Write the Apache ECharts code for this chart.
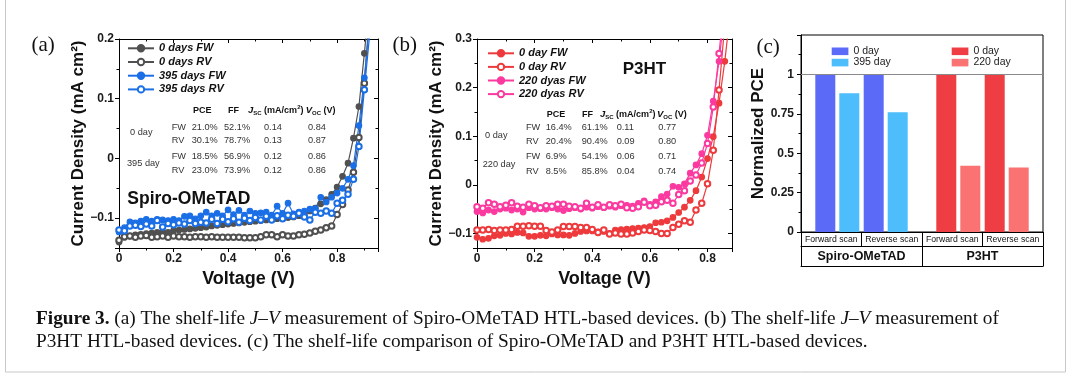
<!DOCTYPE html>
<html><head><meta charset="utf-8">
<script src="https://cdn.jsdelivr.net/npm/echarts@6/dist/echarts.min.js"></script>
<style>html,body{margin:0;padding:0;background:#fff}#c{width:1080px;height:381px}</style>
</head><body><div id="c"></div>
<script>
// ---------- DATA ----------
const voltageA = [0,0.02,0.04,0.06,0.08,0.1,0.12,0.14,0.16,0.18,0.2,0.22,0.24,0.26,0.28,0.3,0.32,0.34,0.36,0.38,0.4,0.42,0.44,0.46,0.48,0.5,0.52,0.54,0.56,0.58,0.6,0.62,0.64,0.66,0.68,0.7,0.72,0.74,0.76,0.78,0.8,0.82,0.84,0.86,0.88,0.9,0.92];
const spiro0FW = [-0.140,-0.132,-0.130,-0.128,-0.127,-0.126,-0.125,-0.124,-0.123,-0.124,-0.121,-0.120,-0.119,-0.118,-0.117,-0.116,-0.115,-0.113,-0.112,-0.111,-0.110,-0.109,-0.108,-0.107,-0.106,-0.105,-0.104,-0.103,-0.102,-0.101,-0.100,-0.099,-0.098,-0.096,-0.094,-0.088,-0.083,-0.076,-0.069,-0.060,-0.048,-0.030,-0.008,0.034,0.087,0.176,0.270];
const spiro0RV = [-0.137,-0.131,-0.130,-0.132,-0.130,-0.129,-0.132,-0.131,-0.130,-0.132,-0.130,-0.131,-0.131,-0.132,-0.131,-0.131,-0.132,-0.131,-0.132,-0.132,-0.132,-0.132,-0.132,-0.133,-0.133,-0.133,-0.131,-0.128,-0.128,-0.131,-0.128,-0.130,-0.130,-0.128,-0.127,-0.125,-0.122,-0.120,-0.116,-0.113,-0.094,-0.077,-0.053,-0.023,0.035,0.126,0.250];
const spiro395FW = [-0.123,-0.116,-0.106,-0.108,-0.105,-0.102,-0.105,-0.102,-0.103,-0.104,-0.102,-0.104,-0.097,-0.096,-0.101,-0.096,-0.090,-0.096,-0.092,-0.096,-0.086,-0.094,-0.087,-0.095,-0.088,-0.092,-0.091,-0.090,-0.095,-0.080,-0.092,-0.075,-0.093,-0.090,-0.088,-0.085,-0.084,-0.065,-0.073,-0.065,-0.058,-0.050,-0.035,-0.012,0.055,0.135,0.230];
const spiro395RV = [-0.120,-0.121,-0.113,-0.112,-0.114,-0.110,-0.113,-0.104,-0.115,-0.109,-0.111,-0.108,-0.110,-0.104,-0.109,-0.107,-0.108,-0.102,-0.109,-0.102,-0.106,-0.101,-0.107,-0.100,-0.104,-0.099,-0.103,-0.097,-0.103,-0.096,-0.101,-0.095,-0.097,-0.092,-0.098,-0.103,-0.090,-0.092,-0.088,-0.092,-0.075,-0.070,-0.060,-0.035,0.020,0.115,0.210];

const voltageB = [0,0.02,0.04,0.06,0.08,0.1,0.12,0.14,0.16,0.18,0.2,0.22,0.24,0.26,0.28,0.3,0.32,0.34,0.36,0.38,0.4,0.42,0.44,0.46,0.48,0.5,0.52,0.54,0.56,0.58,0.6,0.62,0.64,0.66,0.68,0.7,0.72,0.74,0.76,0.78,0.8,0.82,0.84,0.86,0.88];
const p3ht0FW = [-0.108,-0.112,-0.110,-0.105,-0.104,-0.100,-0.101,-0.098,-0.099,-0.106,-0.106,-0.104,-0.105,-0.101,-0.103,-0.103,-0.104,-0.100,-0.096,-0.095,-0.095,-0.097,-0.096,-0.100,-0.093,-0.092,-0.091,-0.090,-0.089,-0.088,-0.086,-0.078,-0.077,-0.074,-0.067,-0.057,-0.046,-0.032,-0.012,0.016,0.054,0.099,0.168,0.254,0.360];
const p3ht0RV = [-0.093,-0.093,-0.092,-0.094,-0.093,-0.093,-0.092,-0.085,-0.085,-0.084,-0.085,-0.085,-0.094,-0.097,-0.093,-0.086,-0.086,-0.086,-0.088,-0.088,-0.092,-0.098,-0.093,-0.101,-0.099,-0.101,-0.101,-0.099,-0.096,-0.093,-0.094,-0.096,-0.100,-0.100,-0.088,-0.081,-0.074,-0.077,-0.052,-0.038,0.002,0.071,0.195,0.330];
const p3ht220FW = [-0.055,-0.058,-0.052,-0.055,-0.050,-0.048,-0.052,-0.050,-0.056,-0.047,-0.050,-0.049,-0.050,-0.047,-0.050,-0.053,-0.049,-0.047,-0.050,-0.046,-0.048,-0.045,-0.047,-0.044,-0.046,-0.043,-0.042,-0.044,-0.038,-0.033,-0.040,-0.035,-0.024,-0.019,-0.003,-0.005,0.002,0.024,0.041,0.064,0.102,0.172,0.254,0.360];
const p3ht220RV = [-0.045,-0.048,-0.037,-0.040,-0.045,-0.042,-0.037,-0.044,-0.046,-0.040,-0.043,-0.047,-0.043,-0.044,-0.040,-0.040,-0.044,-0.045,-0.048,-0.038,-0.046,-0.041,-0.046,-0.041,-0.043,-0.040,-0.047,-0.048,-0.045,-0.036,-0.043,-0.042,-0.035,-0.032,-0.038,-0.020,-0.012,0.008,0.020,0.045,0.085,0.160,0.270,0.390];

const scanLabels = ['Forward scan','Reverse scan','Forward scan','Reverse scan'];
const htlLabels = ['Spiro-OMeTAD','P3HT'];
const spiroPCE0 = [1, 1];
const spiroPCE395 = [0.88, 0.76];
const p3htPCE0 = [1, 1];
const p3htPCE220 = [0.42, 0.41];

const tableHeader = ['PCE','FF','{i|J}{sub|SC}{t| (mA/cm}{sup|2}{t|)}','{i|V}{sub|OC}{t| (V)}'];
const tableARows = [['FW','21.0%','52.1%','0.14','0.84'],['RV','30.1%','78.7%','0.13','0.87'],['FW','18.5%','56.9%','0.12','0.86'],['RV','23.0%','73.9%','0.12','0.86']];
const tableAGroups = ['0 day','395 day'];
const tableBRows = [['FW','16.4%','61.1%','0.11','0.77'],['RV','20.4%','90.4%','0.09','0.80'],['FW','6.9%','54.1%','0.06','0.71'],['RV','8.5%','85.8%','0.04','0.74']];
const tableBGroups = ['0 day','220 day'];

const captionLine1 = '{b|Figure 3.} (a) The shelf-life {i|J–V} measurement of Spiro-OMeTAD HTL-based devices. (b) The shelf-life {i|J–V} measurement of';
const captionLine2 = 'P3HT HTL-based devices. (c) The shelf-life comparison of Spiro-OMeTAD and P3HT HTL-based devices.';

// ---------- STYLE / LAYOUT ----------
const FONT = '"Liberation Sans", Arial, sans-serif';
const SERIF = '"Liberation Serif", "Times New Roman", serif';
const BLACK = '#000';
const cGray = '#505050', cBlue = '#1b6fe6', cRed = '#ee3a3c', cPink = '#fb3aa0';
const barPos = [1, 2];
const barPosP3 = [3.5, 4.5];
const CAP = 19.3;

function zip(xs, ys){ return ys.map((y,i)=>[xs[i], y]); }
function fmt(v){ if (Math.abs(v) < 1e-9) return '0'; return (v < 0 ? '\u2212' : '') + String(+Math.abs(v).toFixed(2)); }
const tickLbl = {fontFamily: FONT, fontWeight: 'bold', fontSize: 12, color: '#1a1a1a'};
const axLine = {show: true, onZero: false, lineStyle: {color: BLACK, width: 1}};

function xAx(grid, pos, min, max, withLabel){
  return {gridIndex: grid, type: 'value', position: pos, min, max, splitNumber: 5,
    axisLine: axLine,
    axisTick: {show: true, inside: pos === 'top', length: 4, lineStyle: {color: BLACK}},
    minorTick: {show: true, splitNumber: 2, length: 2.5, lineStyle: {color: BLACK}},
    splitLine: {show: false},
    axisLabel: withLabel ? Object.assign({margin: 5, formatter: fmt, showMaxLabel: false}, tickLbl) : {show: false},
    name: withLabel ? 'Voltage (V)' : '', nameLocation: 'middle', nameGap: 19,
    nameTextStyle: {fontFamily: FONT, fontWeight: 'bold', fontSize: 18, color: '#111'}};
}
function yAx(grid, pos, min, max, withLabel, nameGap){
  return {gridIndex: grid, type: 'value', position: pos, min, max, splitNumber: 4,
    axisLine: axLine,
    axisTick: {show: true, inside: pos === 'right', length: 4, lineStyle: {color: BLACK}},
    minorTick: {show: true, splitNumber: 2, length: 2.5, lineStyle: {color: BLACK}},
    splitLine: {show: false},
    axisLabel: withLabel ? Object.assign({margin: 5, formatter: fmt, showMinLabel: false}, tickLbl) : {show: false},
    name: withLabel ? 'Current Density (mA cm\u00B2)' : '', nameLocation: 'middle', nameGap: nameGap,
    nameTextStyle: {fontFamily: FONT, fontWeight: 'bold', fontSize: 17, color: '#111'}};
}
function jv(name, xs, ys, color, filled, xi, yi){
  return {type: 'line', name, xAxisIndex: xi, yAxisIndex: yi, data: zip(xs, ys),
    symbol: filled ? 'circle' : 'emptyCircle', symbolSize: 5.5, showSymbol: true,
    lineStyle: {color, width: 1.2}, itemStyle: {color, borderColor: color, borderWidth: 1.2},
    emphasis: {disabled: true}, clip: true, animation: false};
}
function bar(name, pos, vals, color, xi, extra){
  return Object.assign({type: 'bar', name, xAxisIndex: xi, yAxisIndex: 4, data: zip(pos, vals),
    barWidth: 20, barGap: '20%', itemStyle: {color}, emphasis: {disabled: true}, animation: false}, extra || {});
}

function table(rows, groups, colX, hdrX, hdrY, rowY, grpX, grpY){
  const els = [];
  tableHeader.forEach((h, i) => els.push({type: 'text', x: hdrX[i], y: hdrY, style: {
    text: h, fontFamily: FONT, fontWeight: 'bold', fontSize: 9, fill: '#111', lineHeight: 12,
    align: 'left', verticalAlign: 'middle', textAlign: 'left', textVerticalAlign: 'middle',
    rich: {t: {fontFamily: FONT, fontWeight: 'bold', fontSize: 9, lineHeight: 12},
           i: {fontFamily: FONT, fontWeight: 'bold', fontStyle: 'italic', fontSize: 9.5, lineHeight: 12},
           sub: {fontFamily: FONT, fontWeight: 'bold', fontSize: 6, lineHeight: 6, verticalAlign: 'bottom'},
           sup: {fontFamily: FONT, fontWeight: 'bold', fontSize: 6, lineHeight: 6, verticalAlign: 'top'}}}}));
  rows.forEach((r, ri) => r.forEach((c, ci) => els.push({type: 'text', x: colX[ci], y: rowY[ri], style: {
    text: c, fontFamily: FONT, fontSize: 9.2, fill: '#333', align: 'left', verticalAlign: 'middle',
    textAlign: 'left', textVerticalAlign: 'middle'}})));
  groups.forEach((g, gi) => els.push({type: 'text', x: grpX[gi], y: grpY[gi], style: {
    text: g, fontFamily: FONT, fontSize: 9.2, fill: '#333', align: 'left', verticalAlign: 'middle',
    textAlign: 'left', textVerticalAlign: 'middle'}}));
  return els;
}
function label(text, x, y, font, size, weight){
  return {type: 'text', x, y, style: {text, fontFamily: font, fontSize: size, fontWeight: weight || 'normal',
    fill: '#111', align: 'left', verticalAlign: 'middle', textAlign: 'left', textVerticalAlign: 'middle'}};
}

const legendText = {fontFamily: FONT, fontSize: 11, fontWeight: 'bold', fontStyle: 'italic', color: '#111'};

const option = {
  backgroundColor: '#fff',
  animation: false,
  grid: [
    {left: 119, top: 39, width: 259, height: 209},
    {left: 477, top: 39, width: 255, height: 209},
    {left: 801, top: 35, width: 242, height: 197, show: true, borderColor: BLACK, borderWidth: 1, backgroundColor: 'transparent'}
  ],
  xAxis: [
    xAx(0, 'bottom', 0, 0.95, true),
    xAx(0, 'top', 0, 0.95, false),
    xAx(1, 'bottom', 0, 0.885, true),
    xAx(1, 'top', 0, 0.885, false),
    {gridIndex: 2, type: 'value', min: 0.25, max: 5.25, show: false},
    {gridIndex: 2, type: 'value', min: 0.25, max: 5.25, show: false},
    {gridIndex: 2, type: 'category', position: 'bottom', data: scanLabels,
      axisLine: {show: true, lineStyle: {color: BLACK}}, axisTick: {show: true, interval: 0, alignWithLabel: false, length: 14, lineStyle: {color: BLACK}},
      axisLabel: {interval: 0, fontFamily: FONT, fontSize: 8.7, color: '#111', margin: 3}, splitLine: {show: false}},
    {gridIndex: 2, type: 'category', position: 'bottom', offset: 14.3, data: htlLabels,
      axisLine: {show: true, lineStyle: {color: BLACK}}, axisTick: {show: true, interval: 0, alignWithLabel: false, length: 20, lineStyle: {color: BLACK}},
      axisLabel: {interval: 0, fontFamily: FONT, fontSize: 12.5, fontWeight: 'bold', color: '#111', margin: 4}, splitLine: {show: false}},
    {gridIndex: 2, type: 'category', position: 'bottom', offset: 34.3, data: htlLabels,
      axisLine: {show: true, lineStyle: {color: BLACK}}, axisTick: {show: false}, axisLabel: {show: false}, splitLine: {show: false}}
  ],
  yAxis: [
    yAx(0, 'left', -0.15, 0.2, true, 25),
    yAx(0, 'right', -0.15, 0.2, false, 0),
    yAx(1, 'left', -0.13, 0.3, true, 27),
    yAx(1, 'right', -0.13, 0.3, false, 0),
    {gridIndex: 2, type: 'value', position: 'left', min: 0, max: 1.25, interval: 0.25,
      axisLine: axLine, axisTick: {show: true, length: 4, lineStyle: {color: BLACK}},
      minorTick: {show: true, splitNumber: 2, length: 2.5, lineStyle: {color: BLACK}},
      splitLine: {show: false},
      axisLabel: Object.assign({margin: 7, showMaxLabel: false}, tickLbl),
      name: 'Normalized PCE', nameLocation: 'middle', nameGap: 27,
      nameTextStyle: {fontFamily: FONT, fontWeight: 'bold', fontSize: 17, color: '#111'}}
  ],
  legend: [
    {data: ['0 days FW','0 days RV','395 days FW','395 days RV'], orient: 'vertical', left: 127, top: 42.8,
      itemWidth: 26, itemHeight: 8, itemGap: 2.7, padding: 0, selectedMode: false, textStyle: legendText},
    {data: ['0 day FW','0 day RV','220 dyas FW','220 dyas RV'], orient: 'vertical', left: 487, top: 47.8,
      itemWidth: 26, itemHeight: 8, itemGap: 2.6, padding: 0, selectedMode: false, textStyle: legendText},
    {data: ['Spiro 0 day','Spiro 395 day'], orient: 'vertical', left: 831.7, top: 45.8, icon: 'rect',
      itemWidth: 16.7, itemHeight: 7.6, itemGap: 0.3, padding: 0, selectedMode: false,
      formatter: n => n.replace('Spiro ', ''), textStyle: {fontFamily: FONT, fontSize: 10.5, color: '#222'}},
    {data: ['P3HT 0 day','P3HT 220 day'], orient: 'vertical', left: 951.7, top: 45.8, icon: 'rect',
      itemWidth: 16.7, itemHeight: 7.6, itemGap: 0.3, padding: 0, selectedMode: false,
      formatter: n => n.replace('P3HT ', ''), textStyle: {fontFamily: FONT, fontSize: 10.5, color: '#222'}}
  ],
  series: [
    jv('0 days FW', voltageA, spiro0FW, cGray, true, 0, 0),
    jv('0 days RV', voltageA, spiro0RV, cGray, false, 0, 0),
    jv('395 days FW', voltageA, spiro395FW, cBlue, true, 0, 0),
    jv('395 days RV', voltageA, spiro395RV, cBlue, false, 0, 0),
    jv('0 day FW', voltageB, p3ht0FW, cRed, true, 2, 2),
    jv('0 day RV', voltageB, p3ht0RV, cRed, false, 2, 2),
    jv('220 dyas FW', voltageB, p3ht220FW, cPink, true, 2, 2),
    jv('220 dyas RV', voltageB, p3ht220RV, cPink, false, 2, 2),
    bar('Spiro 0 day', barPos, spiroPCE0, '#5b6bf8', 4, {markLine: {silent: true, symbol: 'none', animation: false,
      label: {show: false}, lineStyle: {color: '#8a8a8a', width: 1, type: 'solid'}, data: [{yAxis: 1}]}}),
    bar('Spiro 395 day', barPos, spiroPCE395, '#4dbdfb', 4),
    bar('P3HT 0 day', barPosP3, p3htPCE0, '#ee3e44', 5),
    bar('P3HT 220 day', barPosP3, p3htPCE220, '#fa7272', 5)
  ],
  graphic: [].concat(
    [{type: 'rect', shape: {x: 5.5, y: -2, width: 1060, height: 374}, style: {fill: 'none', stroke: '#c8c8c8', lineWidth: 1}, silent: true}],
    [label('(a)', 31.5, 45, SERIF, 21), label('(b)', 392.5, 45, SERIF, 21), label('(c)', 756.5, 47.5, SERIF, 21),
     label('Spiro-OMeTAD', 127.3, 198.7, FONT, 17.5, 'bold'), label('P3HT', 622.7, 69.5, FONT, 17, 'bold')],
    table(tableARows, tableAGroups, [171.7, 191.7, 224, 264, 308], [193, 228, 248, 305.7], 110.7,
      [127.3, 140.7, 156.7, 170.7], [130, 127], [132.7, 163.3]),
    table(tableBRows, tableBGroups, [526, 545.7, 581.7, 616.7, 658.3], [546.7, 582, 600, 657], 114.3,
      [127.3, 141.7, 156.7, 171], [485, 482.7], [135, 164]),
    [{type: 'text', x: 36, y: 319, style: {text: captionLine1, fontFamily: SERIF, fontSize: CAP, fill: '#111',
        align: 'left', verticalAlign: 'middle', textAlign: 'left', textVerticalAlign: 'middle',
        rich: {b: {fontFamily: SERIF, fontSize: CAP, fontWeight: 'bold'}, i: {fontFamily: SERIF, fontSize: CAP, fontStyle: 'italic'}}}},
     {type: 'text', x: 36, y: 342, style: {text: captionLine2, fontFamily: SERIF, fontSize: CAP, fill: '#111',
        align: 'left', verticalAlign: 'middle', textAlign: 'left', textVerticalAlign: 'middle'}}]
  )
};
const chart = echarts.init(document.getElementById('c'), null, {renderer: 'canvas', width: 1080, height: 381});
chart.setOption(option);
</script>
</body></html>
